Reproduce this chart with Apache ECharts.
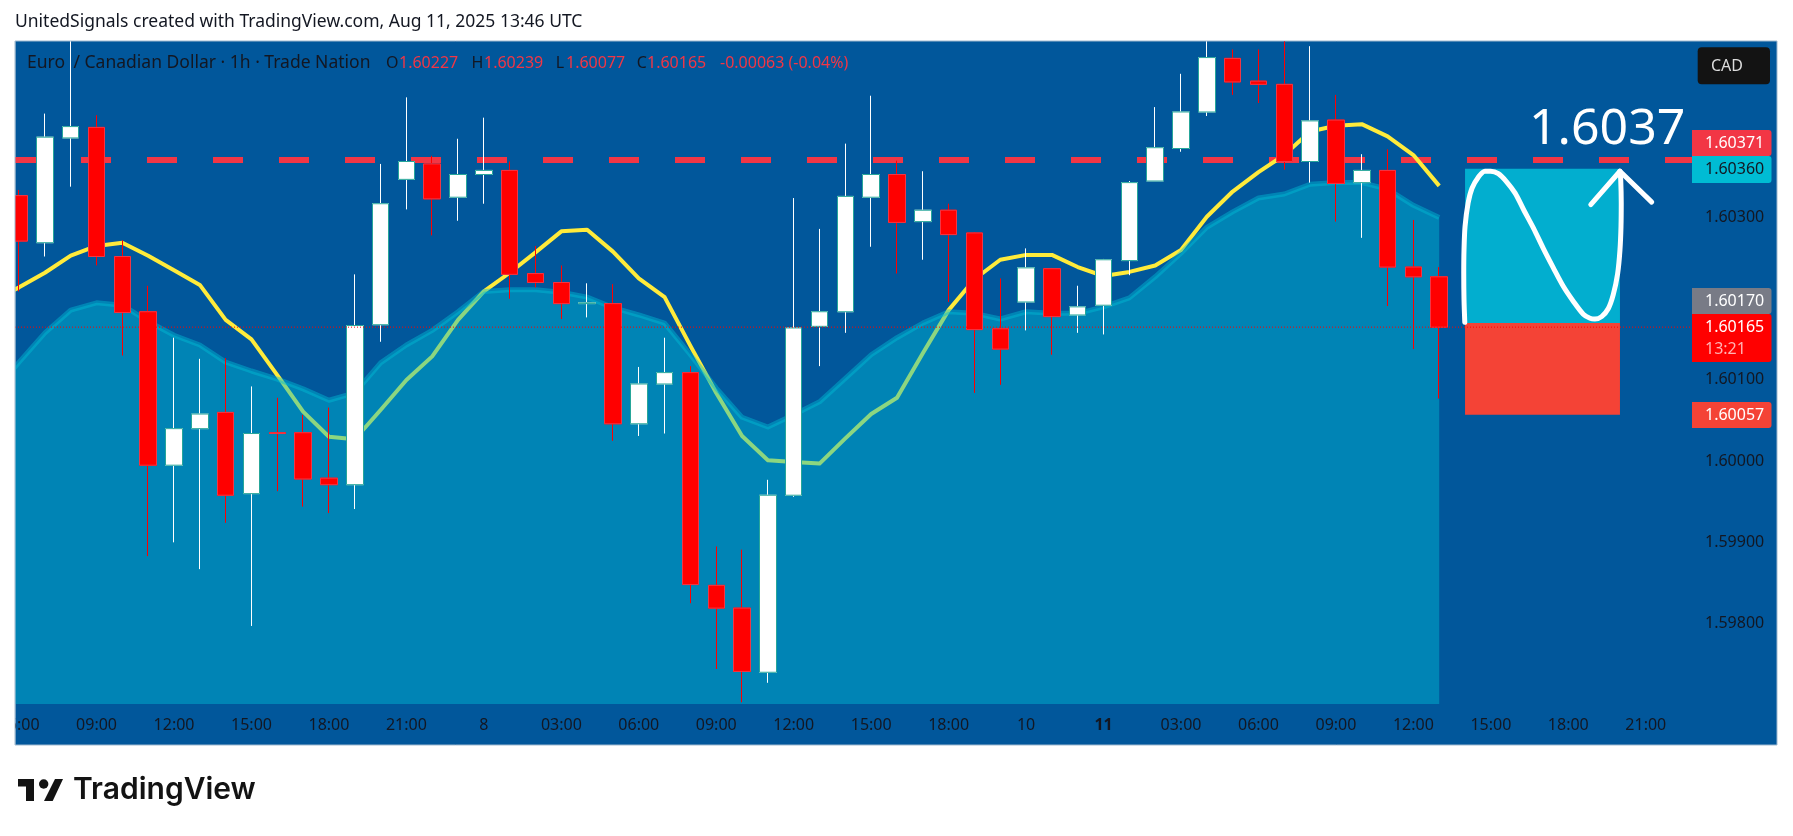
<!DOCTYPE html>
<html>
<head>
<meta charset="utf-8">
<title>EUR/CAD 1h</title>
<style>
html, body { margin: 0; padding: 0; background: #fff; }
#chart { width: 1793px; height: 836px; }
</style>
<script src="https://cdn.jsdelivr.net/npm/echarts@6/dist/echarts.min.js"></script>
</head>
<body>
<div id="chart"></div>
<script>
// candles, index 0 = 06:00 on the first visible day
const opens = [1.60327,1.60269,1.60398,1.60411,1.60252,1.60184,1.59995,1.60040,1.60060,1.59960,1.60035,1.60035,1.59979,1.59971,1.60168,1.60347,1.60366,1.60325,1.60353,1.60358,1.60231,1.60220,1.60194,1.60194,1.60046,1.60095,1.60109,1.59847,1.59819,1.59740,1.59958,1.60166,1.60184,1.60325,1.60353,1.60295,1.60309,1.60281,1.60163,1.60196,1.60237,1.60180,1.60192,1.60247,1.60345,1.60385,1.60430,1.60496,1.60468,1.60464,1.60369,1.60420,1.60343,1.60358,1.60239,1.60227];
const closes = [1.60271,1.60399,1.60412,1.60252,1.60183,1.59995,1.60040,1.60058,1.59958,1.60034,1.60034,1.59978,1.59971,1.60167,1.60317,1.60369,1.60323,1.60353,1.60358,1.60230,1.60220,1.60194,1.60195,1.60046,1.60095,1.60109,1.59848,1.59819,1.59741,1.59958,1.60164,1.60184,1.60326,1.60353,1.60294,1.60309,1.60279,1.60162,1.60138,1.60238,1.60178,1.60190,1.60248,1.60343,1.60386,1.60430,1.60497,1.60467,1.60464,1.60369,1.60419,1.60342,1.60358,1.60239,1.60227,1.60165];
const lows = [1.60209,1.60252,1.60338,1.60241,1.60130,1.59883,1.59900,1.59867,1.59924,1.59797,1.59963,1.59944,1.59936,1.59941,1.60147,1.60310,1.60278,1.60296,1.60317,1.60200,1.60214,1.60175,1.60177,1.60025,1.60031,1.60034,1.59825,1.59744,1.59703,1.59727,1.59956,1.60117,1.60158,1.60264,1.60231,1.60248,1.60196,1.60084,1.60094,1.60161,1.60131,1.60158,1.60156,1.60229,1.60345,1.60381,1.60425,1.60451,1.60441,1.60359,1.60343,1.60295,1.60275,1.60191,1.60138,1.60077];
// three wicks run past the top of the panel, cut at its edge
const highs = [1.60334,1.60428,1.60517,1.60426,1.60272,1.60216,1.60152,1.60126,1.60127,1.60092,1.60078,1.60057,1.60066,1.60230,1.60366,1.60448,1.60376,1.60397,1.60423,1.60369,1.60265,1.60241,1.60219,1.60218,1.60116,1.60152,1.60117,1.59895,1.59891,1.59977,1.60324,1.60286,1.60391,1.60450,1.60370,1.60357,1.60317,1.60282,1.60225,1.60262,1.60238,1.60216,1.60249,1.60345,1.60436,1.60477,1.60517,1.60507,1.60507,1.60517,1.60511,1.60451,1.60378,1.60384,1.60297,1.60239];

// both averages start one bar before the visible edge
const yellowAvg = [1.60198,1.60214,1.60232,1.60253,1.60265,1.60269,1.60253,1.60235,1.60217,1.60174,1.60150,1.60106,1.60061,1.60030,1.60027,1.60063,1.60100,1.60129,1.60174,1.60209,1.60232,1.60257,1.60283,1.60285,1.60258,1.60225,1.60202,1.60142,1.60084,1.60031,1.60001,1.59999,1.59997,1.60028,1.60058,1.60078,1.60133,1.60186,1.60224,1.60248,1.60254,1.60254,1.60239,1.60228,1.60233,1.60241,1.60260,1.60301,1.60332,1.60356,1.60377,1.60406,1.60413,1.60415,1.60400,1.60377,1.60339];
const areaAvg = [1.60084,1.60122,1.60158,1.60186,1.60195,1.60192,1.60172,1.60155,1.60143,1.60122,1.60111,1.60101,1.60089,1.60075,1.60084,1.60121,1.60143,1.60161,1.60184,1.60209,1.60211,1.60211,1.60208,1.60202,1.60189,1.60180,1.60170,1.60131,1.60090,1.60054,1.60042,1.60057,1.60073,1.60102,1.60131,1.60152,1.60170,1.60184,1.60182,1.60175,1.60184,1.60182,1.60182,1.60190,1.60201,1.60227,1.60256,1.60288,1.60307,1.60324,1.60329,1.60341,1.60343,1.60343,1.60335,1.60315,1.60300];

// hand drawn squiggle and arrow head on the long position box
const squiggleX = [55.99,55.96,55.95,55.96,56.0,56.12,56.27,56.52,56.77,56.99,57.29,57.61,57.94,58.28,58.65,59.03,59.42,59.81,60.19,60.58,60.84,61.03,61.29,61.55,61.74,61.91,62.0,62.04,62.05,62.03,62.0];
const squiggleP = [1.60171,1.60199,1.60231,1.60260,1.60289,1.60318,1.60336,1.60350,1.60357,1.60357,1.60354,1.60344,1.60330,1.60309,1.60287,1.60262,1.60238,1.60215,1.60197,1.60181,1.60176,1.60175,1.60178,1.60188,1.60205,1.60231,1.60260,1.60289,1.60318,1.60346,1.60357];
const arrowX = [60.87,62.0,63.23];
const arrowP = [1.60316,1.60357,1.60319];

const priceTicks = [1.598,1.599,1.600,1.601,1.603];
const timeTickIdx = [0,3,6,9,12,15,18,21,24,27,30,33,36,39,42,45,48,51,54,57,60,63];
const timeTickText = ['06:00','09:00','12:00','15:00','18:00','21:00','8','03:00','06:00','09:00','12:00','15:00','18:00','10','{b|11}','03:00','06:00','09:00','12:00','15:00','18:00','21:00'];

const resistance = 1.60371, lastPrice = 1.60165;
const targetPrice = 1.60360, entryPrice = 1.60170, stopPrice = 1.60057;
const boxFrom = 56, boxTo = 62;
const xMin = -0.159, xMax = 64.79;

const FONT = 'Noto Sans';
const DARK = '#131722';
const BG = '#01579b';

const chart = echarts.init(document.getElementById('chart'));

const fullRows = opens.map((o, i) => [i, o, closes[i], lows[i], highs[i]]);
const bodyRows = opens.map((o, i) => [i, o, closes[i], Math.min(o, closes[i]), Math.max(o, closes[i])]);

const txt = (x, y, text, fill, size, extra) => ({
    type: 'text', x, y, z: 50,
    style: Object.assign({ text, fill, font: (size || 16) + 'px "' + FONT + '"', textVerticalAlign: 'middle' }, extra || {})
});
const tag = (y, h, fill) => ({
    type: 'rect', z: 40, shape: { x: 1692, y, width: 79.5, height: h, r: [0, 3, 3, 0] }, style: { fill }
});

chart.setOption({
    animation: false,
    backgroundColor: '#ffffff',
    grid: { left: 15, top: 41, width: 1677, height: 663, outerBoundsMode: 'none' },
    xAxis: {
        type: 'value', min: xMin, max: xMax,
        splitLine: { show: false }, axisLine: { show: false },
        axisTick: { show: false },
        axisLabel: {
            customValues: timeTickIdx,
            formatter: (v) => timeTickText[timeTickIdx.indexOf(v)],
            color: DARK, fontSize: 16, fontFamily: FONT, margin: 13,
            rich: { b: { fontWeight: 'bold', fontSize: 16, fontFamily: FONT, color: DARK } }
        }
    },
    yAxis: {
        type: 'value', position: 'right', min: 1.597009, max: 1.605174, scale: true,
        splitLine: { show: false }, axisLine: { show: false },
        axisTick: { show: false },
        axisLabel: {
            customValues: priceTicks,
            formatter: (v) => v.toFixed(5),
            color: DARK, fontSize: 16, fontFamily: FONT, margin: 13
        }
    },
    series: [
        {
            // boxes sit at the bottom
            name: 'position', type: 'line', z: 2, data: [], symbol: 'none',
            markArea: {
                silent: true,
                data: [
                    [{ coord: [boxFrom, targetPrice], itemStyle: { color: '#02aecf' } }, { coord: [boxTo, entryPrice] }],
                    [{ coord: [boxFrom, entryPrice], itemStyle: { color: '#f44336' } }, { coord: [boxTo, stopPrice] }]
                ]
            }
        },
        {
            name: 'resistance', type: 'line', z: 2, symbol: 'none', silent: true,
            data: [[xMin, resistance], [xMax, resistance]],
            lineStyle: { color: '#f23645', width: 6, type: [30, 36] }
        },
        {
            name: 'fast', type: 'line', z: 3, symbol: 'none',
            data: yellowAvg.map((v, i) => [i - 1, v]),
            lineStyle: { color: '#ffeb3b', width: 4, join: 'round' }
        },
        {
            name: 'slow', type: 'line', z: 4, symbol: 'none',
            data: areaAvg.map((v, i) => [i - 1, v]),
            lineStyle: { color: 'rgba(0,188,212,0.45)', width: 5, join: 'round' },
            areaStyle: { color: 'rgba(0,188,212,0.45)', opacity: 1 }
        },
        {
            // full candle, wick colour
            name: 'wicks', type: 'candlestick', z: 5, barWidth: 17,
            data: fullRows,
            itemStyle: { color: '#ffffff', color0: '#ff0000', borderColor: '#ffffff', borderColor0: '#ff0000', borderWidth: 1 }
        },
        {
            // same bodies again for the teal/red outline
            name: 'bodies', type: 'candlestick', z: 6, barWidth: 17,
            data: bodyRows,
            itemStyle: { color: '#ffffff', color0: '#ff0000', borderColor: '#26a69a', borderColor0: '#f23645', borderWidth: 1 }
        },
        {
            name: 'last', type: 'line', z: 7, symbol: 'none', silent: true,
            data: [[xMin, lastPrice], [xMax, lastPrice]],
            lineStyle: { color: '#ff0000', width: 1, type: [1, 2] }
        },
        {
            name: 'squiggle', type: 'line', z: 8, symbol: 'none', smooth: 0.3,
            data: squiggleX.map((x, i) => [x, squiggleP[i]]),
            lineStyle: { color: '#ffffff', width: 5, cap: 'round', join: 'round' }
        },
        {
            name: 'arrow', type: 'line', z: 8, symbol: 'none',
            data: arrowX.map((x, i) => [x, arrowP[i]]),
            lineStyle: { color: '#ffffff', width: 5, cap: 'round', join: 'round' }
        }
    ],
    graphic: {
        elements: [
            // panel behind the grid
            { type: 'rect', z: -10, shape: { x: 15, y: 41, width: 1762, height: 704 }, style: { fill: BG, stroke: '#9fb9cf', lineWidth: 1 } },
            // cuts everything that pokes out left of the panel, first candle and label included
            { type: 'rect', z: 30, shape: { x: 0, y: 38, width: 15, height: 710 }, style: { fill: '#ffffff' } },
            { type: 'rect', z: 31, shape: { x: 14.5, y: 41, width: 1, height: 704 }, style: { fill: '#9fb9cf' } },

            txt(15, 22, 'UnitedSignals created with TradingView.com, Aug 11, 2025 13:46 UTC', DARK, 17.5),

            txt(27, 63, 'Euro', DARK, 17.5),
            txt(73.5, 63, '/ Canadian Dollar · 1h · Trade Nation', DARK, 17.5),
            txt(386, 63, 'O', DARK, 16), txt(399, 63, '1.60227', '#f23645', 16),
            txt(471.5, 63, 'H', DARK, 16), txt(484, 63, '1.60239', '#f23645', 16),
            txt(555.7, 63, 'L', DARK, 16), txt(566, 63, '1.60077', '#f23645', 16),
            txt(636.7, 63, 'C', DARK, 16), txt(647, 63, '1.60165', '#f23645', 16),
            txt(720, 63, '-0.00063 (-0.04%)', '#f23645', 16),

            txt(1529, 130, '1.6037', '#ffffff', 50),

            { type: 'rect', z: 40, shape: { x: 1697.7, y: 47.3, width: 72.3, height: 37, r: 4 }, style: { fill: '#131313' } },
            txt(1711, 66, 'CAD', '#dddddd', 16),

            tag(130, 26, '#f23645'), txt(1705, 143.5, '1.60371', '#ffffff', 16),
            tag(156, 27, '#00bcd4'), txt(1705, 169.5, '1.60360', DARK, 16),
            tag(288, 26, '#787b86'), txt(1705, 301.5, '1.60170', '#ffffff', 16),
            tag(314, 48, '#ff0000'), txt(1705, 327.5, '1.60165', '#ffffff', 16), txt(1705, 349, '13:21', '#ffb3b3', 16),
            tag(402, 26, '#f44336'), txt(1705, 415.5, '1.60057', '#ffffff', 16),

            // TradingView mark
            { type: 'polygon', z: 40, shape: { points: [[18,779],[34,779],[34,801],[26,801],[26,786.5],[18,786.5]] }, style: { fill: '#131313' } },
            { type: 'circle', z: 40, shape: { cx: 43.7, cy: 784, r: 4.7 }, style: { fill: '#131313' } },
            { type: 'polygon', z: 40, shape: { points: [[55,779],[63,779],[52.7,801],[44,801]] }, style: { fill: '#131313' } },
            txt(73, 790, 'TradingView', '#131313', 30, { font: '600 30px "Inter"' })
        ]
    }
});
</script>
</body>
</html>
